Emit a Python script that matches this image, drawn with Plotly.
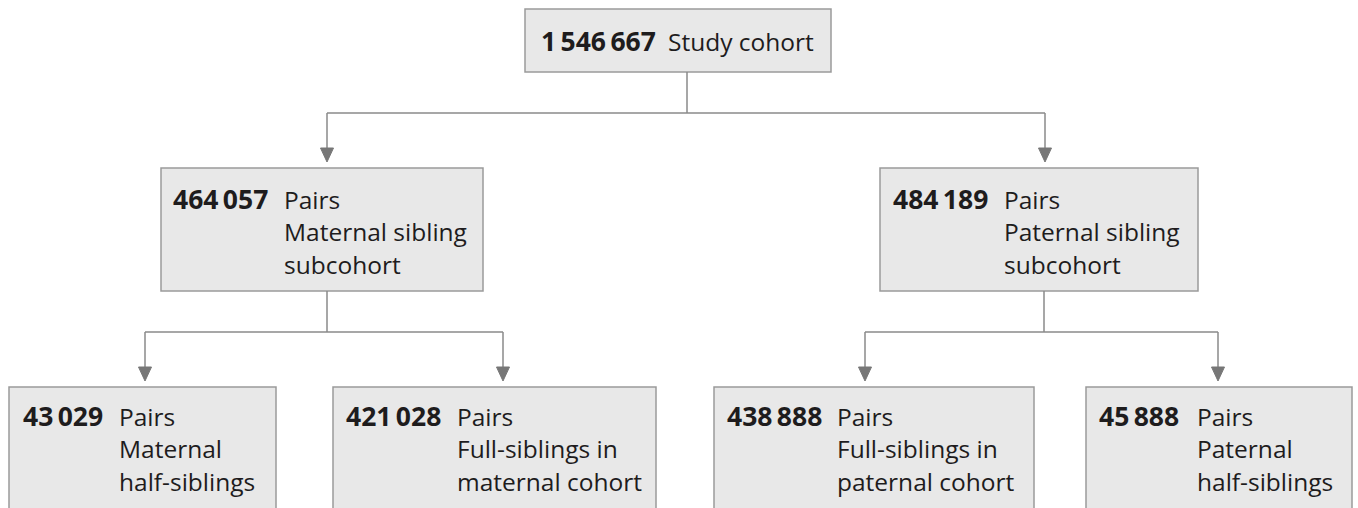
import plotly.graph_objects as go

# ---- data ----
counts = ["1\u2009546\u2009667", "464\u2009057", "484\u2009189", "43\u2009029", "421\u2009028", "438\u2009888", "45\u2009888"]
labels = [
    ["Study cohort"],
    ["Pairs", "Maternal sibling", "subcohort"],
    ["Pairs", "Paternal sibling", "subcohort"],
    ["Pairs", "Maternal", "half-siblings"],
    ["Pairs", "Full-siblings in", "maternal cohort"],
    ["Pairs", "Full-siblings in", "paternal cohort"],
    ["Pairs", "Paternal", "half-siblings"],
]
parents = [None, 0, 0, 1, 1, 2, 2]

# ---- layout geometry (x0, x1, y0, y1, number x, label x, first line y) ----
boxes = [
    (525, 831, 9, 72, 539, 666, 41),
    (161, 483, 168, 291, 171, 282, 199),
    (880, 1198, 168, 291, 891, 1002, 199),
    (9, 276, 387, 530, 21, 117, 416),
    (333, 656, 387, 530, 344, 455, 416),
    (714, 1034, 387, 530, 725, 835, 416),
    (1086, 1352, 387, 530, 1097, 1195, 416),
]
arrow_x = [None, 327, 1045, 145, 503, 865, 1218]
bus_y = {0: 113, 1: 332, 2: 332}
stem_x = {0: 687, 1: 327, 2: 1044}

FONT = "Open Sans"
TXT = "#1e1c1d"
LINE = "#8a8a8a"
HEAD = "#777777"
LS = 32.5

shapes, annos = [], []
for i, (x0, x1, y0, y1, nx, lx, ly) in enumerate(boxes):
    shapes.append(dict(type="rect", x0=x0, x1=x1, y0=y0, y1=y1, xref="x", yref="y",
                       fillcolor="#e8e8e8", line=dict(color="#9a9a9a", width=1.5), layer="below"))
    annos.append(dict(x=nx, y=ly, text="<b>%s</b>" % counts[i], xanchor="left", yanchor="middle",
                      showarrow=False, font=dict(family=FONT, size=26.5, color=TXT)))
    for k, t in enumerate(labels[i]):
        annos.append(dict(x=lx, y=ly + k * LS, text=t, xanchor="left", yanchor="middle",
                          showarrow=False, font=dict(family=FONT, size=24.5, color=TXT)))

# connectors
for p in (0, 1, 2):
    kids = [i for i, q in enumerate(parents) if q == p]
    by = bus_y[p]
    shapes.append(dict(type="line", x0=stem_x[p], x1=stem_x[p], y0=boxes[p][3], y1=by,
                       line=dict(color=LINE, width=1.5)))
    xs = [arrow_x[k] for k in kids]
    shapes.append(dict(type="line", x0=min(xs), x1=max(xs), y0=by, y1=by, line=dict(color=LINE, width=1.5)))
    for k in kids:
        ax = arrow_x[k]
        top = boxes[k][2]
        tip = top - 6
        shapes.append(dict(type="line", x0=ax, x1=ax, y0=by, y1=tip - 10, line=dict(color=LINE, width=1.5)))
        shapes.append(dict(type="path", path="M %f %f L %f %f L %f %f Z" % (ax - 6.5, tip - 14, ax + 6.5, tip - 14, ax, tip),
                           fillcolor=HEAD, line=dict(color=HEAD, width=1)))

fig = go.Figure()
fig.add_trace(go.Scatter(x=[0, 1358], y=[0, 508], mode="markers", marker=dict(opacity=0), hoverinfo="skip", showlegend=False))
fig.update_layout(
    width=1358, height=508, margin=dict(l=0, r=0, t=0, b=0),
    paper_bgcolor="white", plot_bgcolor="white",
    xaxis=dict(range=[0, 1358], visible=False, fixedrange=True),
    yaxis=dict(range=[508, 0], visible=False, fixedrange=True),
    shapes=shapes, annotations=annos,
)
fig.write_html("out.html", config={"displayModeBar": False},
               post_script="document.body.style.margin='0';document.body.style.padding='0';document.body.style.overflow='hidden';")
